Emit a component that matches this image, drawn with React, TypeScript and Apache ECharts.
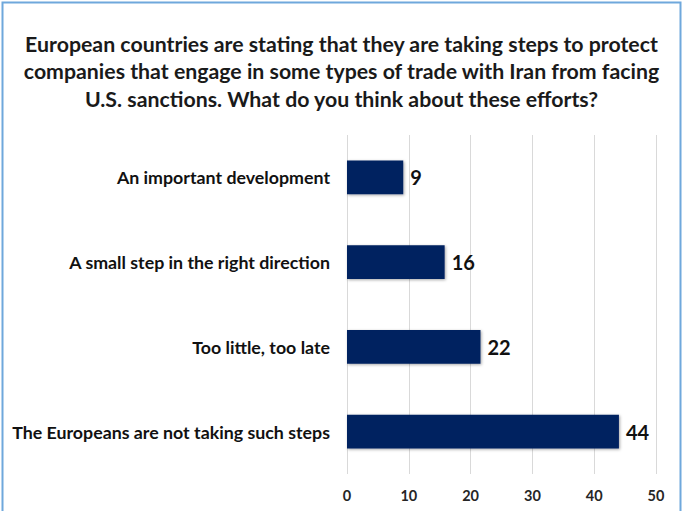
import React, { useEffect, useRef } from "react";
import * as echarts from "echarts";

const titleText =
  "European countries are stating that they are taking steps to protect\ncompanies that engage in some types of trade with Iran from facing\nU.S. sanctions. What do you think about these efforts?";

const categories = [
  "The Europeans are not taking such steps",
  "Too little, too late",
  "A small step in the right direction",
  "An important development",
];
const values = [44, 21.6, 15.8, 9.1];
const xTicks = { min: 0, max: 50, interval: 10 };

const FONT = "Lato, 'Noto Sans', sans-serif";

export default function App() {
  const ref = useRef<HTMLDivElement>(null);
  useEffect(() => {
    document.body.style.margin = "0";
    const chart = echarts.init(ref.current!, null, { renderer: "svg" });
    chart.setOption({
      animation: false,
      backgroundColor: "#ffffff",
      title: {
        text: titleText,
        left: "center",
        top: 25,
        textStyle: {
          fontFamily: FONT,
          fontSize: 21.3,
          fontWeight: "bold",
          color: "#1a1a1a",
          lineHeight: 27.5,
        },
      },
      graphic: [
        {
          type: "rect",
          shape: { x: 2.5, y: 2.5, width: 678, height: 530 },
          style: { fill: "none", stroke: "#6fa8dc", lineWidth: 2 },
          silent: true,
        },
      ],
      grid: { left: 347, right: 27, top: 135, bottom: 37, containLabel: false },
      xAxis: {
        type: "value",
        min: xTicks.min,
        max: xTicks.max,
        interval: xTicks.interval,
        axisLine: { show: false },
        axisTick: { show: false },
        splitLine: { show: true, lineStyle: { color: "#d9d9d9", width: 1 } },
        axisLabel: {
          margin: 14,
          fontFamily: FONT,
          fontSize: 14.5,
          fontWeight: "bold",
          color: "#262626",
        },
      },
      yAxis: {
        type: "category",
        data: categories,
        axisLine: { show: false },
        axisTick: { show: false },
        axisLabel: {
          margin: 17,
          fontFamily: FONT,
          fontSize: 17.8,
          fontWeight: "bold",
          color: "#111111",
        },
      },
      series: [
        {
          type: "bar",
          data: values,
          barWidth: "40%",
          itemStyle: {
            color: "#022060",
            shadowColor: "rgba(0,0,0,0.35)",
            shadowBlur: 3,
            shadowOffsetX: 1,
            shadowOffsetY: 1,
          },
          label: {
            show: true,
            position: "right",
            distance: 7,
            formatter: (p: any) => String(Math.round(p.value)),
            fontFamily: FONT,
            fontSize: 20,
            fontWeight: "bold",
            color: "#111111",
          },
        },
      ],
    });
    return () => chart.dispose();
  }, []);
  return <div ref={ref} style={{ width: 683, height: 511 }} />;
}
